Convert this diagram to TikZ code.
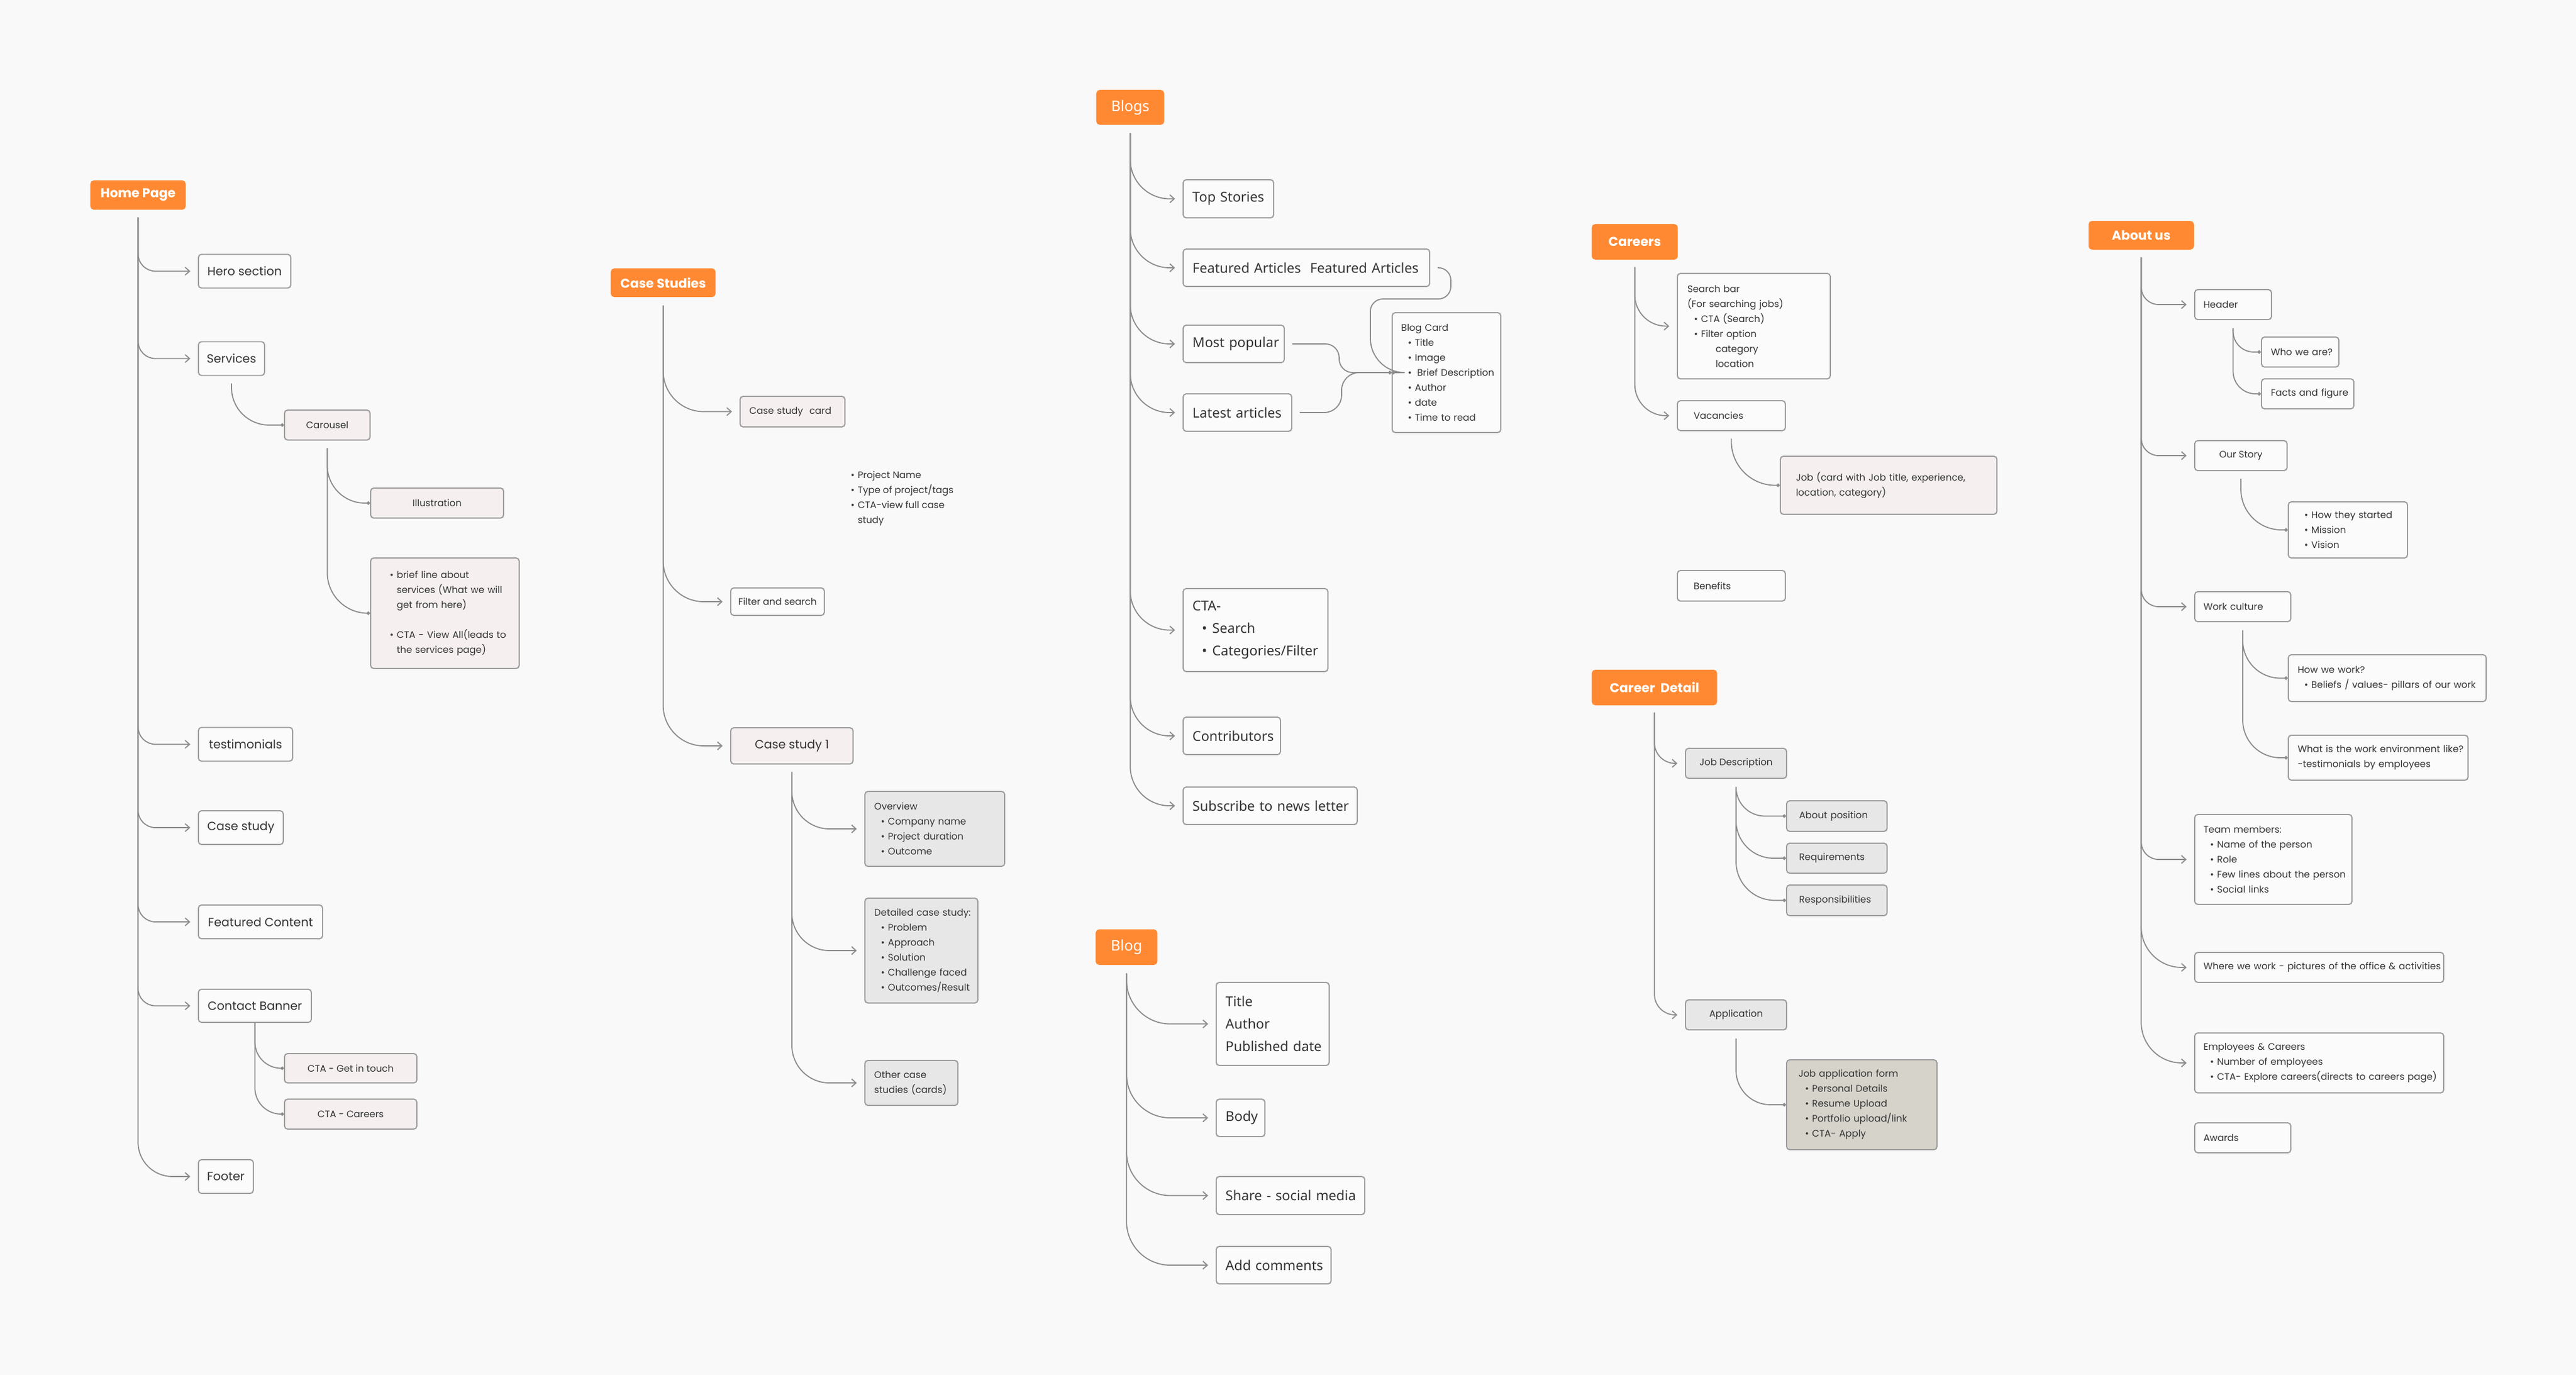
\documentclass[tikz,border=0pt]{standalone}
\usepackage{fontspec}
\setmainfont{Poppins}
\newfontfamily\notosans{Noto Sans}
\usepackage{tikz}
\usetikzlibrary{positioning}
\usetikzlibrary{arrows.meta}
\usetikzlibrary{calc}
\definecolor{pagebg}{RGB}{249,249,249}
\definecolor{hdrorange}{RGB}{255,137,51}
\definecolor{boxline}{RGB}{158,158,158}
\definecolor{linegrey}{RGB}{140,140,140}
\definecolor{ink}{RGB}{52,52,52}
\definecolor{boxwhite}{RGB}{251,251,251}
\definecolor{pinkfill}{RGB}{245,239,239}
\definecolor{greyfill}{RGB}{231,231,231}
\definecolor{formfill}{RGB}{214,211,203}
\newcommand{\smallfont}{\fontsize{4.3}{6.83}\selectfont}
\newcommand{\midfont}{\fontsize{5.45}{7}\selectfont}
\newcommand{\hdrfont}{\bfseries\fontsize{5.85}{7}\selectfont}
\newcommand{\blogfont}{\notosans\fontsize{6.2}{10.24}\selectfont}
\newcommand{\bloghdrfont}{\notosans\bfseries\fontsize{6.7}{8}\selectfont}
\newcommand{\itm}{\hspace*{0.7em}\makebox[0.75em][l]{\textbullet}}
\newcommand{\cnt}{\hspace*{1.45em}}
\newcommand{\boxpad}{0cm}
\tikzset{
  boxsize/.code n args={3}{%
    \pgfmathsetmacro\boxtw{#1-0.04}%
    \def\boxpad{#3cm}%
    \tikzset{minimum width=#1cm, minimum height=#2cm, inner xsep=0.02cm, text width=\boxtw cm}},
  cboxsize/.style 2 args={minimum width=#1cm, minimum height=#2cm, inner xsep=0pt},
  hdr/.style={fill=hdrorange, text=white, rounded corners=1.6pt, anchor=west, inner ysep=0pt, align=center, font=\hdrfont},
  itembox/.style={draw=boxline, line width=0.55pt, fill=boxwhite, rounded corners=1.4pt, anchor=west, inner ysep=0pt,
    align=left, text=ink, font=\smallfont, execute at begin node={\leftskip=\boxpad\relax\hyphenpenalty=10000\relax}},
  mainbox/.style={itembox, font=\midfont, align=center},
  pinkbox/.style={itembox, fill=pinkfill},
  greybox/.style={itembox, fill=greyfill},
  formbox/.style={itembox, fill=formfill},
  blogbox/.style={itembox, font=\blogfont},
  note/.style={anchor=north west, inner sep=0pt, align=left, text=ink, font=\smallfont},
  branch/.style={draw=linegrey, line width=0.5pt, shorten >=0.12cm, -{Straight Barb[length=2pt,width=3.6pt]}},
  twig/.style={draw=linegrey, line width=0.5pt, -{Circle[length=1.6pt]}}
}
\begin{document}
\begin{tikzpicture}
  \useasboundingbox (0,0) rectangle (41.28,-22.03);
  \fill[pagebg] (0,0) rectangle (41.28,-22.03);

  % home page
  \begin{scope}
    \node[hdr, cboxsize={1.53}{0.47}] (home) at (1.44,-3.125) {Home Page};
    \node[mainbox, cboxsize={1.48}{0.54}] (hero) at (3.17,-4.345) {Hero section};
    \node[mainbox, cboxsize={1.06}{0.54}] (services) at (3.17,-5.745) {Services};
    \node[pinkbox, align=center, cboxsize={1.37}{0.48}] (carousel) at (4.55,-6.81) {Carousel};
    \node[pinkbox, align=center, cboxsize={2.13}{0.48}] (illus) at (5.93,-8.06) {Illustration};
    \node[pinkbox, boxsize={2.38}{1.77}{0.18}] (brief) at (5.93,-9.825)
      {\itm brief line about\\ \cnt services (What we will\\ \cnt get from here)\\[6.83pt] \itm CTA - View All(leads to\\ \cnt the services page)};
    \node[mainbox, cboxsize={1.51}{0.54}] (testi) at (3.17,-11.925) {testimonials};
    \node[mainbox, cboxsize={1.36}{0.54}] (casest) at (3.17,-13.26) {Case study};
    \node[mainbox, cboxsize={1.99}{0.54}] (featured) at (3.17,-14.77) {Featured Content};
    \node[mainbox, cboxsize={1.81}{0.53}] (contact) at (3.17,-16.115) {Contact Banner};
    \node[pinkbox, align=center, cboxsize={2.12}{0.47}] (touch) at (4.55,-17.115) {CTA - Get in touch};
    \node[pinkbox, align=center, cboxsize={2.12}{0.48}] (ctacar) at (4.55,-17.85) {CTA - Careers};
    \node[mainbox, cboxsize={0.88}{0.54}] (footer) at (3.17,-18.85) {Footer};
  \end{scope}

  % case studies
  \begin{scope}
    \node[hdr, cboxsize={1.68}{0.46}] (cs) at (9.78,-4.53) {Case Studies};
    \node[pinkbox, boxsize={1.68}{0.49}{0.13}] (cscard) at (11.85,-6.595) {Case study~\ card};
    \node[note] (cardnote) at (13.52,-7.54)
      {\itm Project Name\\ \itm Type of project/tags\\ \itm CTA-view full case\\ \cnt study};
    \node[itembox, align=center, cboxsize={1.50}{0.44}] (filter) at (11.70,-9.64) {Filter and search};
    \node[mainbox, fill=pinkfill, cboxsize={1.96}{0.58}] (cs1) at (11.70,-11.95) {Case study 1};
    \node[greybox, boxsize={2.24}{1.20}{0.13}] (overview) at (13.85,-13.28)
      {Overview\\ \itm Company name\\ \itm Project duration\\ \itm Outcome};
    \node[greybox, boxsize={1.81}{1.68}{0.13}] (detailed) at (13.85,-15.23)
      {Detailed case study:\\ \itm Problem\\ \itm Approach\\ \itm Solution\\ \itm Challenge faced\\ \itm Outcomes/Result};
    \node[greybox, boxsize={1.49}{0.72}{0.13}] (other) at (13.85,-17.35) {Other case\\studies (cards)};
  \end{scope}

  % blogs
  \begin{scope}
    \node[hdr, font=\bloghdrfont, cboxsize={1.09}{0.56}] (blogs) at (17.56,-1.72) {Blogs};
    \node[blogbox, boxsize={1.45}{0.61}{0.13}] (top) at (18.95,-3.185) {Top Stories};
    \node[blogbox, boxsize={3.95}{0.60}{0.13}] (feat) at (18.95,-4.29) {Featured Articles~\ Featured Articles};
    \node[blogbox, boxsize={1.62}{0.60}{0.13}] (pop) at (18.95,-5.51) {Most popular};
    \node[blogbox, boxsize={1.74}{0.60}{0.13}] (latest) at (18.95,-6.61) {Latest articles};
    \node[itembox, boxsize={1.74}{1.92}{0.125}] (card) at (22.30,-5.97)
      {Blog Card\\ \itm Title\\ \itm Image\\ \itm\hspace{0.25em}Brief Description\\ \itm Author\\ \itm date\\ \itm Time to read};
    \node[blogbox, boxsize={2.32}{1.33}{0.13}] (cta) at (18.95,-10.095) {CTA-\\ \itm Search\\ \itm Categories/Filter};
    \node[blogbox, boxsize={1.56}{0.60}{0.13}] (contrib) at (18.95,-11.79) {Contributors};
    \node[blogbox, boxsize={2.79}{0.60}{0.13}] (subscribe) at (18.95,-12.91) {Subscribe to news letter};
  \end{scope}

  % blog
  \begin{scope}
    \node[hdr, font=\bloghdrfont, cboxsize={0.99}{0.57}] (blog) at (17.55,-15.175) {Blog};
    \node[blogbox, boxsize={1.81}{1.33}{0.13}] (title) at (19.48,-16.405) {Title\\Author\\Published date};
    \node[blogbox, boxsize={0.78}{0.60}{0.13}] (body) at (19.48,-17.91) {Body};
    \node[blogbox, boxsize={2.38}{0.61}{0.13}] (share) at (19.48,-19.155) {Share - social media};
    \node[blogbox, boxsize={1.84}{0.60}{0.13}] (comments) at (19.48,-20.27) {Add comments};
  \end{scope}

  % careers
  \begin{scope}
    \node[hdr, cboxsize={1.38}{0.57}] (careers) at (25.50,-3.875) {Careers};
    \node[itembox, boxsize={2.45}{1.69}{0.14}] (search) at (26.87,-5.225)
      {Search bar\\(For searching jobs)\\ \itm CTA (Search)\\ \itm Filter option\\ \hspace*{3em}category\\ \hspace*{3em}location};
    \node[itembox, boxsize={1.73}{0.48}{0.24}] (vacancies) at (26.87,-6.66) {Vacancies};
    \node[pinkbox, boxsize={3.47}{0.93}{0.23}] (job) at (28.52,-7.775)
      {Job (card with Job title, experience,\\location, category)};
    \node[itembox, boxsize={1.73}{0.49}{0.24}] (benefits) at (26.87,-9.385) {Benefits};
  \end{scope}

  % career detail
  \begin{scope}
    \node[hdr, cboxsize={2.01}{0.57}] (cd) at (25.50,-11.015) {Career~\ Detail};
    \node[greybox, align=center, cboxsize={1.62}{0.48}] (jd) at (27.00,-12.23) {Job Description};
    \node[greybox, boxsize={1.61}{0.49}{0.18}] (aboutpos) at (28.62,-13.075) {About position};
    \node[greybox, boxsize={1.61}{0.48}{0.18}] (req) at (28.62,-13.75) {Requirements};
    \node[greybox, boxsize={1.61}{0.49}{0.18}] (resp) at (28.62,-14.425) {Responsibilities};
    \node[greybox, align=center, cboxsize={1.62}{0.48}] (app) at (27.00,-16.26) {Application};
    \node[formbox, boxsize={2.41}{1.44}{0.17}] (form) at (28.62,-17.70)
      {Job application form\\ \itm Personal Details\\ \itm Resume Upload\\ \itm Portfolio upload/link\\ \itm CTA- Apply};
  \end{scope}

  % about us
  \begin{scope}
    \node[hdr, cboxsize={1.69}{0.46}] (about) at (33.46,-3.77) {About us};
    \node[itembox, boxsize={1.23}{0.48}{0.12}] (header) at (35.16,-4.88) {Header};
    \node[itembox, boxsize={1.24}{0.48}{0.13}] (who) at (36.23,-5.64) {Who we are?};
    \node[itembox, boxsize={1.48}{0.48}{0.13}] (facts) at (36.23,-6.31) {Facts and figure};
    \node[itembox, align=center, cboxsize={1.48}{0.48}] (story) at (35.16,-7.30) {Our Story};
    \node[itembox, boxsize={1.91}{0.90}{0.13}] (started) at (36.66,-8.49)
      {\itm How they started\\ \itm Mission\\ \itm Vision};
    \node[itembox, boxsize={1.54}{0.48}{0.12}] (culture) at (35.16,-9.72) {Work culture};
    \node[itembox, boxsize={3.17}{0.75}{0.13}] (howwork) at (36.66,-10.865)
      {How we work?\\ \itm Beliefs / values- pillars of our work};
    \node[itembox, boxsize={2.88}{0.72}{0.13}] (environ) at (36.66,-12.14)
      {What is the work environment like?\\-testimonials by employees};
    \node[itembox, boxsize={2.52}{1.44}{0.12}] (team) at (35.16,-13.77)
      {Team members:\\ \itm Name of the person\\ \itm Role\\ \itm Few lines about the person\\ \itm Social links};
    \node[itembox, boxsize={3.99}{0.48}{0.12}] (where) at (35.16,-15.50) {Where we work - pictures of the office \& activities};
    \node[itembox, boxsize={3.99}{0.96}{0.12}] (employees) at (35.16,-17.03)
      {Employees \& Careers\\ \itm Number of employees\\ \itm CTA- Explore careers(directs to careers page)};
    \node[itembox, boxsize={1.54}{0.48}{0.12}] (awards) at (35.16,-18.23) {Awards};
  \end{scope}

  % connectors
  \coordinate (hometrunk) at ([yshift=-0.12cm]home.south);
  \foreach \n in {hero,services,testi,casest,featured,contact}
    \draw[branch, rounded corners=0.28cm] (hometrunk) |- (\n.west);
  \draw[branch, rounded corners=0.55cm] (hometrunk) |- (footer.west);
  \draw[twig, rounded corners=0.6cm] ([yshift=-0.12cm]services.south) |- (carousel.west);
  \draw[twig, rounded corners=0.6cm] ([yshift=-0.12cm]carousel.south) |- (illus.west);
  \draw[twig, rounded corners=0.65cm] ([yshift=-0.12cm]carousel.south) |- (brief.west);
  \draw[twig, rounded corners=0.42cm] (contact.south) |- (touch.west);
  \draw[twig, rounded corners=0.42cm] (contact.south) |- (ctacar.west);

  \coordinate (cstrunk) at ([yshift=-0.13cm]cs.south);
  \foreach \n in {cscard,filter,cs1}
    \draw[branch, rounded corners=0.65cm] (cstrunk) |- (\n.west);
  \foreach \n in {overview,detailed,other}
    \draw[branch, rounded corners=0.6cm] ([yshift=-0.12cm]cs1.south) |- (\n.west);

  \coordinate (blogstrunk) at ([yshift=-0.13cm]blogs.south);
  \foreach \n in {top,feat,pop,latest,cta,contrib,subscribe}
    \draw[branch, rounded corners=0.63cm] (blogstrunk) |- (\n.west);
  \draw[twig, rounded corners=0.2cm] ([xshift=0.12cm]feat.east) -- ++(0.21,0) -- ++(0,-0.5) -- ++(-1.29,0)
    [rounded corners=0.55cm] -- ++(0,-1.18) [rounded corners=0.25cm] -- (card.west);
  \draw[twig, rounded corners=0.22cm] ([xshift=0.12cm]pop.east) -- ++(0.75,0) |- (card.west);
  \draw[twig, rounded corners=0.28cm] ([xshift=0.12cm]latest.east) -- ++(0.67,0) |- (card.west);

  \coordinate (blogtrunk) at ([yshift=-0.13cm]blog.south);
  \foreach \n in {title,body,share,comments}
    \draw[branch, rounded corners=0.7cm] (blogtrunk) |- (\n.west);

  \coordinate (careerstrunk) at ([yshift=-0.11cm]careers.south);
  \foreach \n in {search,vacancies}
    \draw[branch, rounded corners=0.5cm] (careerstrunk) |- (\n.west);
  \draw[twig, rounded corners=0.7cm] ([yshift=-0.12cm]vacancies.south) |- (job.west);

  \coordinate (cdtrunk) at ([yshift=-0.11cm]cd.south);
  \foreach \n in {jd,app}
    \draw[branch, rounded corners=0.33cm] (cdtrunk) |- (\n.west);
  \draw[twig, rounded corners=0.46cm] ([yshift=-0.13cm]jd.south) |- (aboutpos.west);
  \draw[twig, rounded corners=0.6cm] ([yshift=-0.13cm]jd.south) |- (req.west);
  \draw[twig, rounded corners=0.62cm] ([yshift=-0.13cm]jd.south) |- (resp.west);
  \draw[twig, rounded corners=0.55cm] ([yshift=-0.13cm]app.south) |- (form.west);

  \coordinate (abouttrunk) at ([yshift=-0.12cm]about.south);
  \foreach \n in {header,story,culture,team}
    \draw[branch, rounded corners=0.28cm] (abouttrunk) |- (\n.west);
  \foreach \n in {where,employees}
    \draw[branch, rounded corners=0.65cm] (abouttrunk) |- (\n.west);
  \draw[twig, rounded corners=0.33cm] ([yshift=-0.13cm]header.south) |- (who.west);
  \draw[twig, rounded corners=0.36cm] ([yshift=-0.13cm]header.south) |- (facts.west);
  \draw[twig, rounded corners=0.65cm] ([yshift=-0.12cm]story.south) |- (started.west);
  \draw[twig, rounded corners=0.6cm] ([yshift=-0.13cm]culture.south) |- (howwork.west);
  \draw[twig, rounded corners=0.6cm] ([yshift=-0.13cm]culture.south) |- (environ.west);
\end{tikzpicture}
\end{document}
